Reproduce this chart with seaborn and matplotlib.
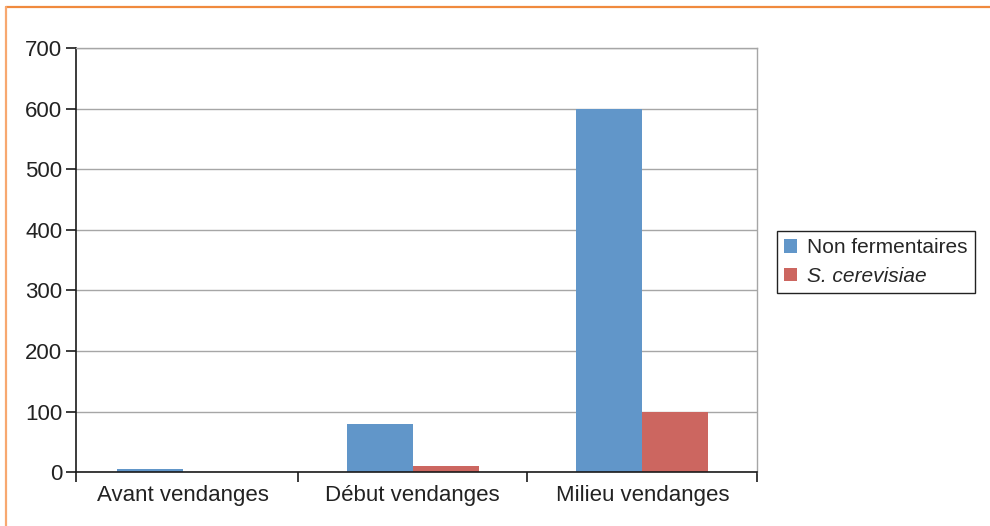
import matplotlib
matplotlib.use("Agg")
import matplotlib.pyplot as plt
import seaborn as sns
import pandas as pd
from matplotlib.lines import Line2D

# Yeast counts by harvest stage
stages = ["Avant vendanges", "Début vendanges", "Milieu vendanges"]
non_fermentaires = [5, 80, 600]
s_cerevisiae = [0, 10, 100]
series = ["Non fermentaires", "S. cerevisiae"]
y_ticks = [0, 100, 200, 300, 400, 500, 600, 700]

colors = ["#6196C9", "#CC6660"]

df = pd.DataFrame({
    "stage": stages * 2,
    "count": non_fermentaires + s_cerevisiae,
    "type": [series[0]] * len(stages) + [series[1]] * len(stages),
})

sns.set_theme(style="white")
plt.rcParams["font.family"] = ["Liberation Sans", "DejaVu Sans"]

fig = plt.figure(figsize=(9.9, 5.26), dpi=100)
ax = fig.add_axes([0.0768, 0.1021, 0.6879, 0.8066])

sns.barplot(data=df, x="stage", y="count", hue="type", order=stages,
            hue_order=series, palette=colors, width=0.575, saturation=1,
            edgecolor="none", linewidth=0, ax=ax, zorder=3)

ax.set_ylim(0, 700)
ax.set_xlim(-0.4665, 2.5)
ax.set_yticks(y_ticks)
ax.set_yticklabels([str(v) for v in y_ticks], fontsize=16, color="#222222")
ax.set_xticks(range(len(stages)))
ax.set_xticklabels(stages, fontsize=16, color="#222222")
ax.set_xlabel("")
ax.set_ylabel("")

# Gridlines and frame
ax.yaxis.grid(True, color="#A6A6A6", linewidth=1.0, zorder=0)
ax.set_axisbelow(True)
for side in ["top", "right"]:
    ax.spines[side].set_visible(True)
    ax.spines[side].set_color("#A6A6A6")
    ax.spines[side].set_linewidth(1.0)
for side in ["left", "bottom"]:
    ax.spines[side].set_color("#1A1A1A")
    ax.spines[side].set_linewidth(1.2)
ax.spines["bottom"].set_zorder(4)

# Ticks: y ticks outward, x ticks at category boundaries
ax.tick_params(axis="y", which="major", direction="out", length=7, width=1.2,
               color="#1A1A1A", pad=3, left=True)
ax.tick_params(axis="x", which="major", length=0, pad=9)
ax.set_xticks([-0.4665, 0.5, 1.5, 2.5], minor=True)
ax.tick_params(axis="x", which="minor", direction="out", length=7, width=1.2,
               color="#1A1A1A", bottom=True)

# Legend
handles = [plt.Rectangle((0, 0), 1, 1, facecolor=c, edgecolor="none") for c in colors]
leg = fig.legend(handles, series, loc="upper left",
                 bbox_to_anchor=(777 / 990, 1 - 231 / 526),
                 fontsize=15, frameon=True, fancybox=False,
                 edgecolor="#222222", framealpha=1, borderpad=0.35,
                 handlelength=0.6, handleheight=0.6, handletextpad=0.5,
                 labelspacing=0.45, borderaxespad=0)
leg.get_frame().set_linewidth(1.0)
leg.get_texts()[1].set_style("italic")
if ax.get_legend() is not None:
    ax.get_legend().remove()

# Orange page frame along top and left
fig.add_artist(Line2D([6 / 990, 1.0], [1 - 7 / 526, 1 - 7 / 526],
                      transform=fig.transFigure, color="#F08A3E", linewidth=1.6))
fig.add_artist(Line2D([6 / 990, 6 / 990], [0.0, 1 - 7 / 526],
                      transform=fig.transFigure, color="#F7A870", linewidth=1.6))

fig.savefig("out.png", dpi=100)
